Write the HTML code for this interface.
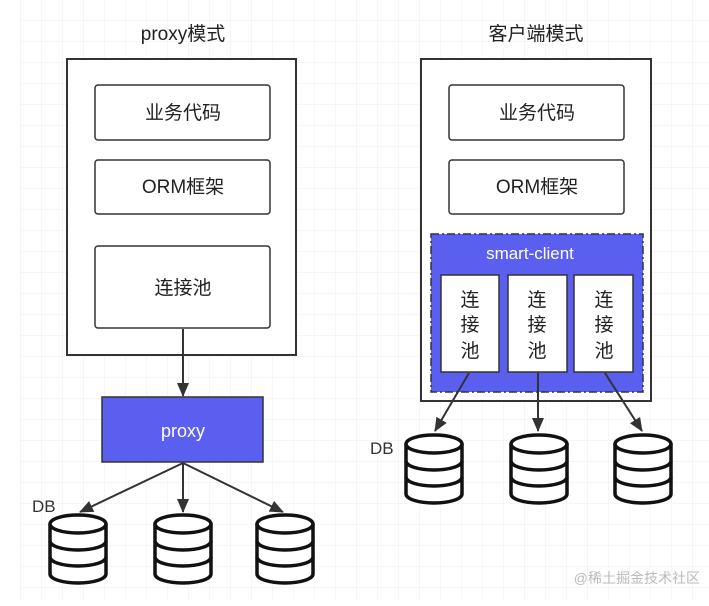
<!DOCTYPE html>
<html><head><meta charset="utf-8"><style>
body{margin:0;width:709px;height:601px;overflow:hidden;background:#fff}
</style></head><body>
<svg width="709" height="601" xmlns="http://www.w3.org/2000/svg" font-family="Liberation Sans, Noto Sans CJK SC, sans-serif">
<defs>
<pattern id="g" width="21" height="21" patternUnits="userSpaceOnUse"><path d="M21 0V21H0" fill="none" stroke="#ececec" stroke-width="1"/></pattern>
<marker id="a" markerWidth="14" markerHeight="14" refX="13" refY="7" orient="auto" markerUnits="userSpaceOnUse"><path d="M0,1L14,7L0,13z" fill="#333"/></marker>
<g id="db" fill="#fff" stroke="#111" stroke-width="3.5">
<path d="M-28,0V50A28,9 0 0 0 28,50V0"/>
<ellipse cx="0" cy="0" rx="28" ry="9"/>
<path d="M-28,17A28,9 0 0 0 28,17M-28,33A28,9 0 0 0 28,33" fill="none"/>
</g>
</defs>
<rect x="20" y="0" width="690" height="601" fill="url(#g)"/>
<g font-size="19" fill="#222" text-anchor="middle">
<text x="183" y="40">proxy模式</text>
<text x="536" y="40">客户端模式</text>
</g>
<rect x="67" y="59" width="229" height="296" fill="#fff" stroke="#333" stroke-width="2"/>
<g fill="#fff" stroke="#333" stroke-width="1.5">
<rect x="95" y="85" width="175" height="55" rx="3"/>
<rect x="95" y="160" width="175" height="54" rx="3"/>
<rect x="95" y="246" width="175" height="82" rx="3"/>
</g>
<g font-size="19" fill="#222" text-anchor="middle">
<text x="183" y="119">业务代码</text>
<text x="183" y="193">ORM框架</text>
<text x="183" y="294">连接池</text>
</g>
<line x1="183" y1="329" x2="183" y2="396" stroke="#333" stroke-width="2" marker-end="url(#a)"/>
<rect x="102" y="397" width="161" height="65" fill="#5a5ff0" stroke="#333" stroke-width="1.5"/>
<text x="183" y="437" font-size="18" fill="#fff" text-anchor="middle">proxy</text>
<g stroke="#333" stroke-width="2" marker-end="url(#a)">
<line x1="183" y1="463" x2="80" y2="512"/>
<line x1="183" y1="463" x2="183" y2="512"/>
<line x1="183" y1="463" x2="283" y2="512"/>
</g>
<text x="32" y="512" font-size="17" fill="#333">DB</text>
<use href="#db" x="78" y="524"/>
<use href="#db" x="183" y="524"/>
<use href="#db" x="285" y="524"/>
<rect x="421" y="59" width="230" height="342" fill="#fff" stroke="#333" stroke-width="2"/>
<g fill="#fff" stroke="#333" stroke-width="1.5">
<rect x="449" y="85" width="175" height="55" rx="3"/>
<rect x="449" y="160" width="175" height="54" rx="3"/>
</g>
<g font-size="19" fill="#222" text-anchor="middle">
<text x="537" y="119">业务代码</text>
<text x="537" y="193">ORM框架</text>
</g>
<rect x="431" y="234" width="212" height="158" fill="#5a5ff0" stroke="#333" stroke-width="1.5" stroke-dasharray="8,3,2,3"/>
<text x="530" y="259" font-size="17" fill="#fff" text-anchor="middle">smart-client</text>
<g fill="#fff" stroke="#333" stroke-width="1.5">
<rect x="441" y="275" width="58" height="97"/>
<rect x="508" y="275" width="59" height="97"/>
<rect x="574" y="275" width="59" height="97"/>
</g>
<g font-size="19" fill="#222" text-anchor="middle">
<text x="470" y="306">连</text><text x="470" y="331">接</text><text x="470" y="357">池</text>
<text x="537" y="306">连</text><text x="537" y="331">接</text><text x="537" y="357">池</text>
<text x="604" y="306">连</text><text x="604" y="331">接</text><text x="604" y="357">池</text>
</g>
<g stroke="#333" stroke-width="2" marker-end="url(#a)">
<line x1="469" y1="373" x2="435" y2="431"/>
<line x1="538" y1="373" x2="538" y2="431"/>
<line x1="605" y1="373" x2="642" y2="431"/>
</g>
<text x="370" y="454" font-size="17" fill="#333">DB</text>
<use href="#db" x="434" y="444"/>
<use href="#db" x="539" y="444"/>
<use href="#db" x="643" y="444"/>
<text x="700" y="583" font-size="14" fill="#bbb" text-anchor="end">@稀土掘金技术社区</text>
</svg>
</body></html>
